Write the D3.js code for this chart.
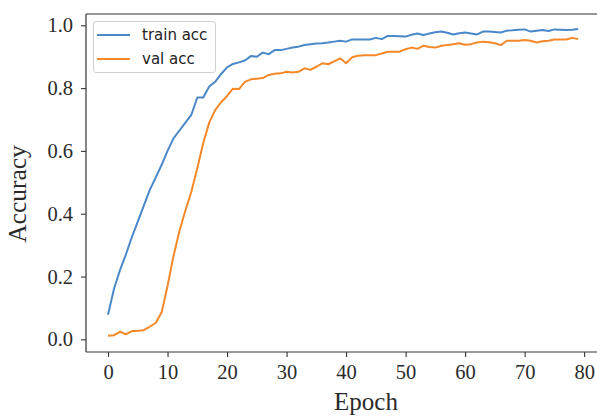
<!DOCTYPE html>
<html>
<head>
<meta charset="utf-8">
<script src="https://cdn.jsdelivr.net/npm/d3@7"></script>
<style>
  body { margin: 0; background: #fff; overflow: hidden; }
  svg { display: block; }
</style>
</head>
<body>
<svg id="chart"></svg>
<script>
// accuracy per epoch
var trainAcc = [
  0.078, 0.16, 0.22, 0.27, 0.325, 0.375, 0.425, 0.475, 0.515, 0.555,
  0.60, 0.64, 0.665, 0.69, 0.715, 0.77, 0.77, 0.805, 0.82, 0.845,
  0.866, 0.877, 0.882, 0.888, 0.902, 0.90, 0.913, 0.908, 0.921, 0.921,
  0.925, 0.929, 0.932, 0.937, 0.94, 0.942, 0.943, 0.945, 0.948, 0.951,
  0.948, 0.955, 0.955, 0.955, 0.955, 0.96, 0.956, 0.966, 0.966, 0.965,
  0.964, 0.97, 0.974, 0.969, 0.974, 0.978, 0.98, 0.976, 0.971, 0.975,
  0.977, 0.974, 0.971, 0.98, 0.98, 0.979, 0.977, 0.983, 0.984, 0.986,
  0.987, 0.98, 0.983, 0.985, 0.982, 0.987, 0.986, 0.985, 0.986, 0.988
];
var valAcc = [
  0.011, 0.013, 0.024, 0.016, 0.026, 0.027, 0.029, 0.040, 0.052, 0.085,
  0.17, 0.265, 0.345, 0.41, 0.47, 0.545, 0.625, 0.69, 0.73, 0.755,
  0.775, 0.798, 0.797, 0.82, 0.828, 0.83, 0.832, 0.842, 0.846, 0.847,
  0.852, 0.85, 0.852, 0.863, 0.858, 0.868, 0.879, 0.876, 0.885, 0.895,
  0.879, 0.898, 0.903, 0.905, 0.905, 0.905, 0.91, 0.916, 0.916, 0.916,
  0.924, 0.929, 0.925, 0.935, 0.931, 0.929, 0.935, 0.937, 0.94, 0.943,
  0.938, 0.94, 0.945, 0.948, 0.946, 0.943, 0.937, 0.951, 0.951, 0.951,
  0.953, 0.951, 0.945, 0.949, 0.951, 0.955, 0.955, 0.955, 0.96, 0.956
];
var xTicks = [0, 10, 20, 30, 40, 50, 60, 70, 80];
var yTicks = [0, 0.2, 0.4, 0.6, 0.8, 1.0];
var seriesNames = ["train acc", "val acc"];
var seriesColors = ["#4a88c8", "#f5892a"];

var width = 597, height = 417;
var plot = { left: 86, top: 14, right: 602, bottom: 352 };

var svg = d3.select("#chart").attr("width", width).attr("height", height);

var xScale = d3.scaleLinear().domain([-3.7, 83]).range([plot.left, plot.right]);
var yScale = d3.scaleLinear().domain([-0.0404, 1.036]).range([plot.bottom, plot.top]);

var serif = "'Liberation Serif', 'Times New Roman', serif";

// frame: the right side falls outside the picture
var frame = svg.append("g").attr("stroke", "#333").attr("stroke-width", 1.2);
frame.append("line").attr("x1", plot.left).attr("x2", width)
  .attr("y1", plot.top).attr("y2", plot.top);
frame.append("line").attr("x1", plot.left).attr("x2", width)
  .attr("y1", plot.bottom).attr("y2", plot.bottom);
frame.append("line").attr("x1", plot.left).attr("x2", plot.left)
  .attr("y1", plot.top).attr("y2", plot.bottom);

var xAxis = svg.append("g")
  .attr("transform", `translate(0,${plot.bottom})`)
  .call(d3.axisBottom(xScale).tickValues(xTicks).tickFormat(d3.format("d"))
    .tickSize(5).tickSizeOuter(0).tickPadding(7));

var yAxis = svg.append("g")
  .attr("transform", `translate(${plot.left},0)`)
  .call(d3.axisLeft(yScale).tickValues(yTicks).tickFormat(d3.format(".1f"))
    .tickSize(5).tickSizeOuter(0).tickPadding(8));

[xAxis, yAxis].forEach(function (ax) {
  ax.select(".domain").remove();
  ax.selectAll(".tick line").attr("stroke", "#333").attr("stroke-width", 1.1);
  ax.selectAll(".tick text")
    .attr("fill", "#2b2b2b")
    .style("font-family", serif)
    .style("font-size", "20.5px");
});

// lines
var line = d3.line()
  .x((d, i) => xScale(i))
  .y((d) => yScale(d));

[trainAcc, valAcc].forEach(function (s, k) {
  svg.append("path")
    .datum(s)
    .attr("fill", "none")
    .attr("stroke", seriesColors[k])
    .attr("stroke-width", 2)
    .attr("stroke-linejoin", "round")
    .attr("d", line);
});

// axis titles
svg.append("text")
  .attr("x", 366).attr("y", 410)
  .attr("text-anchor", "middle")
  .attr("fill", "#2b2b2b")
  .style("font-family", serif).style("font-size", "25px")
  .text("Epoch");

svg.append("text")
  .attr("transform", "translate(26,194) rotate(-90)")
  .attr("text-anchor", "middle")
  .attr("fill", "#2b2b2b")
  .style("font-family", serif).style("font-size", "25.5px")
  .text("Accuracy");

// legend
var legend = svg.append("g");
legend.append("rect")
  .attr("x", 93.5).attr("y", 21.5)
  .attr("width", 122).attr("height", 51)
  .attr("rx", 2.5)
  .attr("fill", "#fff").attr("fill-opacity", 0.8)
  .attr("stroke", "#d0d0d0").attr("stroke-width", 1);

seriesNames.forEach(function (name, k) {
  var yy = 35 + k * 24;
  legend.append("line")
    .attr("x1", 97).attr("x2", 130)
    .attr("y1", yy).attr("y2", yy)
    .attr("stroke", seriesColors[k]).attr("stroke-width", 2);
  legend.append("text")
    .attr("x", 142).attr("y", yy)
    .attr("dy", "0.35em")
    .attr("fill", "#222")
    .style("font-family", "'DejaVu Sans', sans-serif")
    .style("font-size", "15px")
    .text(name);
});
</script>
</body>
</html>
